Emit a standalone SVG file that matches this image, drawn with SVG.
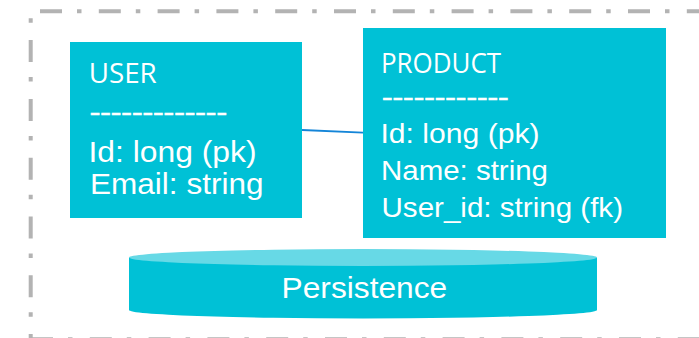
<svg xmlns="http://www.w3.org/2000/svg" width="699" height="338" viewBox="0 0 699 338">
  <style>
    .frame { fill: none; stroke: #b3b3b3; stroke-width: 4; stroke-dasharray: 22 15 4.5 17.3; }
    .entity { fill: #00c1d6; }
    .head { font-family: "Open Sans", "Noto Sans", sans-serif; font-size: 26.5px; fill: #ffffff; }
    .rule { font-family: "Open Sans", "Noto Sans", sans-serif; font-size: 26.5px; fill: #ffffff; stroke: #ffffff; stroke-width: 0.6; }
    .attr { font-family: "Liberation Sans", Arial, sans-serif; fill: #ffffff; }
    .link { stroke: #1485d8; stroke-width: 1.8; fill: none; }
  </style>

  <!-- dash-dot boundary -->
  <g id="boundary">
    <line class="frame" x1="31" y1="11.3" x2="699" y2="11.3" stroke-dashoffset="49.8"/>
    <line class="frame" x1="30.7" y1="11" x2="30.7" y2="338" stroke-dashoffset="29.7"/>
    <line class="frame" x1="31" y1="339.3" x2="699" y2="339.3"/>
  </g>

  <!-- relation between the two entities -->
  <g id="connectors">
    <line class="link" x1="302" y1="130" x2="363" y2="132.7"/>
  </g>

  <g id="user">
    <rect class="entity" x="70" y="42" width="232" height="176"/>
    <text class="head" x="88.7" y="83.3" textLength="68" lengthAdjust="spacingAndGlyphs">USER</text>
    <text class="rule" x="89.7" y="121" textLength="137.3" lengthAdjust="spacingAndGlyphs">-------------</text>
    <text class="attr" x="88.5" y="161.7" font-size="30" textLength="168" lengthAdjust="spacingAndGlyphs">Id: long (pk)</text>
    <text class="attr" x="90" y="194" font-size="30" textLength="173.5" lengthAdjust="spacingAndGlyphs">Email: string</text>
  </g>

  <g id="product">
    <rect class="entity" x="363" y="28" width="303" height="210"/>
    <text class="head" x="381" y="73.3" textLength="120" lengthAdjust="spacingAndGlyphs">PRODUCT</text>
    <text class="rule" x="382" y="106.4" textLength="126.6" lengthAdjust="spacingAndGlyphs">------------</text>
    <text class="attr" x="380.5" y="143.3" font-size="28" textLength="159" lengthAdjust="spacingAndGlyphs">Id: long (pk)</text>
    <text class="attr" x="381" y="180" font-size="28" textLength="167" lengthAdjust="spacingAndGlyphs">Name: string</text>
    <text class="attr" x="381.5" y="216.7" font-size="28" textLength="241.5" lengthAdjust="spacingAndGlyphs">User_id: string (fk)</text>
  </g>

  <g id="persistence">
    <path class="entity" d="M129,257.5 L129,310 A234,8.5 0 0 0 597,310 L597,257.5 Z"/>
    <ellipse cx="363" cy="257.5" rx="234" ry="8.5" fill="#67d9e6"/>
    <text class="attr" x="364.4" y="298.3" font-size="29.5" text-anchor="middle" textLength="165.7" lengthAdjust="spacingAndGlyphs">Persistence</text>
  </g>
</svg>
